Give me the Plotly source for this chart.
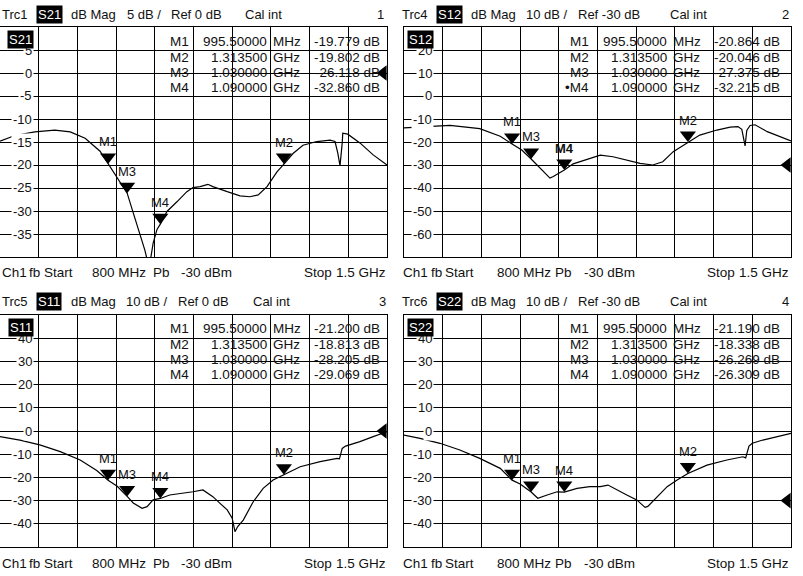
import plotly.graph_objects as go

W, H = 803, 576

# ---------------- data ----------------
START_MHZ, STOP_MHZ = 800, 1500
X_TICKS = [800, 870, 940, 1010, 1080, 1150, 1220, 1290, 1360, 1430, 1500]

# Trc1 S21
P1_FREQ = [800, 827, 863, 899, 927, 954, 981, 995.5, 1012, 1030, 1041, 1053, 1062, 1066, 1071,
           1077, 1084, 1090, 1102, 1120, 1138, 1149, 1162, 1176, 1185, 1211, 1234, 1252, 1267,
           1283, 1301, 1313.5, 1330, 1348, 1373, 1397, 1406, 1411, 1415, 1419, 1420, 1429, 1451,
           1475, 1500]
P1_DB = [-14.8, -13.6, -12.8, -12.4, -12.8, -14.2, -17.0, -19.78, -22.8, -26.12, -30.4, -34.8,
         -38.5, -40.5, -41.5, -37.0, -34.0, -32.86, -30.1, -28.0, -25.8, -24.9, -24.7, -24.2,
         -24.7, -25.8, -26.7, -26.9, -26.5, -24.7, -21.5, -19.8, -17.5, -15.7, -14.9, -14.6,
         -14.9, -17.4, -20.2, -15.2, -13.1, -13.3, -15.2, -17.8, -20.0]

# Trc4 S12
P2_FREQ = [800, 836, 883, 937, 974, 995.5, 1013, 1030, 1046, 1064, 1070, 1082, 1090, 1106, 1131,
           1155, 1178, 1203, 1227, 1250, 1268, 1287, 1313.5, 1335, 1366, 1390, 1404, 1411, 1417,
           1420, 1426, 1435, 1457, 1480, 1500]
P2_DB = [-13.9, -13.3, -12.8, -14.2, -17.5, -20.86, -23.5, -27.38, -31.3, -35.7, -35.0, -33.3,
         -32.22, -29.5, -27.5, -25.7, -26.4, -27.8, -29.3, -30.0, -28.6, -24.2, -20.05, -17.0,
         -14.8, -13.5, -13.3, -14.5, -21.7, -15.0, -12.8, -12.5, -15.5, -17.5, -19.5]

# Trc5 S11
P3_FREQ = [800, 836, 872, 909, 945, 975, 995.5, 1012, 1030, 1041, 1057, 1066, 1077, 1090, 1107,
           1131, 1149, 1167, 1185, 1198, 1211, 1220, 1225, 1230, 1240, 1258, 1276, 1294, 1313.5,
           1343, 1379, 1410, 1414, 1419, 1425, 1451, 1475, 1500]
P3_DB = [-2.4, -3.9, -6.0, -8.9, -12.5, -17.0, -21.2, -23.8, -28.2, -31.0, -33.3, -32.6, -29.7,
         -29.07, -27.6, -26.9, -26.2, -25.4, -28.3, -31.2, -34.0, -37.6, -43.4, -41.2, -38.4,
         -30.5, -24.7, -21.1, -18.81, -15.4, -13.2, -11.8, -12.0, -7.5, -6.5, -4.6, -2.4, -0.3]

# Trc6 S22
P4_FREQ = [800, 829, 865, 901, 937, 974, 995.5, 1010, 1030, 1042, 1059, 1077, 1090, 1113, 1136,
           1155, 1169, 1185, 1203, 1221, 1236, 1241, 1258, 1276, 1294, 1313.5, 1348, 1384, 1413,
           1418, 1424, 1430, 1449, 1475, 1500]
P4_DB = [-1.8, -3.2, -5.3, -8.2, -11.8, -16.1, -21.19, -22.8, -26.27, -29.0, -27.6, -26.2,
         -26.31, -24.7, -24.0, -24.0, -23.3, -25.4, -27.6, -29.7, -32.9, -32.5, -28.3, -24.0,
         -21.1, -18.34, -14.7, -12.5, -11.1, -11.6, -6.5, -5.3, -3.9, -2.5, -1.0]

MK_NAMES = ["M1", "M2", "M3", "M4"]
MK_FREQ = [995.5, 1313.5, 1030.0, 1090.0]
P1_MK_DB = [-19.779, -19.802, -26.118, -32.860]
P2_MK_DB = [-20.864, -20.046, -27.375, -32.215]
P3_MK_DB = [-21.200, -18.813, -28.205, -29.069]
P4_MK_DB = [-21.190, -18.338, -26.269, -26.309]

P1_YLAB = [5, 0, -5, -10, -15, -20, -25, -30, -35]
P2_YLAB = [20, 10, 0, -10, -20, -30, -40, -50, -60]
P3_YLAB = [40, 30, 20, 10, 0, -10, -20, -30, -40]
P4_YLAB = [40, 30, 20, 10, 0, -10, -20, -30, -40]

# ---------------- layout config ----------------
FONT = "Liberation Sans, Arial, sans-serif"
TXT = "#111111"

panels = [
    dict(trc="Trc1", par="S21", scale="5 dB /", ref="Ref 0 dB", num="1", ymin=-40, ymax=10, step=5,
         refval=0, freq=P1_FREQ, db=P1_DB, mk=P1_MK_DB, ylab=P1_YLAB,
         left=0, right=387, top=27, bottom=257, ox=0, oy=0, active=None,
         hx=[0, 49, 69, 125, 169, 243, 386], fx=[0, 27, 42, 90, 151, 179, 302, 388]),
    dict(trc="Trc4", par="S12", scale="10 dB /", ref="Ref -30 dB", num="2", ymin=-70, ymax=30, step=10,
         refval=-30, freq=P2_FREQ, db=P2_DB, mk=P2_MK_DB, ylab=P2_YLAB,
         left=404, right=791, top=27, bottom=257, ox=400, oy=0, active=3,
         hx=[400, 449, 469, 524, 576, 668, 791], fx=[401, 429, 443, 495, 553, 582, 705, 791]),
    dict(trc="Trc5", par="S11", scale="10 dB /", ref="Ref 0 dB", num="3", ymin=-50, ymax=50, step=10,
         refval=0, freq=P3_FREQ, db=P3_DB, mk=P3_MK_DB, ylab=P3_YLAB,
         left=0, right=387, top=315, bottom=547, ox=0, oy=287, active=None,
         hx=[0, 49, 69, 124, 176, 251, 388], fx=[0, 27, 42, 90, 151, 179, 302, 388]),
    dict(trc="Trc6", par="S22", scale="10 dB /", ref="Ref -30 dB", num="4", ymin=-50, ymax=50, step=10,
         refval=-30, freq=P4_FREQ, db=P4_DB, mk=P4_MK_DB, ylab=P4_YLAB,
         left=404, right=791, top=315, bottom=547, ox=400, oy=287, active=None,
         hx=[400, 449, 469, 524, 576, 668, 791], fx=[401, 429, 443, 495, 553, 582, 705, 791]),
]


def fx(px):
    return px / W


def fy(py):
    return 1 - py / H


def fmt_freq(f):
    if f < 1000:
        return ("%.5f" % f, "MHz")
    return ("%.6f" % (f / 1000.0), "GHz")


fig = go.Figure()
annotations = []
layout_axes = {}

TRI_SIZE = 14
REF_SIZE = 13.5

for i, p in enumerate(panels, start=1):
    xa = "x" if i == 1 else "x%d" % i
    ya = "y" if i == 1 else "y%d" % i
    xkey = "xaxis" if i == 1 else "xaxis%d" % i
    ykey = "yaxis" if i == 1 else "yaxis%d" % i

    ppu_y = (p["bottom"] - p["top"]) / (p["ymax"] - p["ymin"])
    ppu_x = (p["right"] - p["left"]) / (STOP_MHZ - START_MHZ)

    layout_axes[xkey] = dict(domain=[fx(p["left"]), fx(p["right"])], range=[START_MHZ, STOP_MHZ],
                             tickvals=X_TICKS, showgrid=True, gridcolor="#000", gridwidth=1,
                             showticklabels=False, showline=True, mirror=True, linecolor="#000",
                             linewidth=1, zeroline=False, ticks="", anchor=ya, fixedrange=True)
    layout_axes[ykey] = dict(domain=[fy(p["bottom"]), fy(p["top"])], range=[p["ymin"], p["ymax"]],
                             tickvals=list(range(p["ymin"], p["ymax"] + p["step"], p["step"])),
                             showgrid=True, gridcolor="#000", gridwidth=1, showticklabels=False,
                             showline=True, mirror=True, linecolor="#000", linewidth=1,
                             zeroline=False, ticks="", anchor=xa, fixedrange=True)

    # trace
    fig.add_trace(go.Scatter(x=p["freq"], y=p["db"], mode="lines", xaxis=xa, yaxis=ya,
                             line=dict(color="#000", width=1.2), hoverinfo="skip", showlegend=False))
    # marker triangles (tip on the trace)
    r_px = TRI_SIZE / 2.0
    fig.add_trace(go.Scatter(x=MK_FREQ, y=[v + r_px / ppu_y for v in p["mk"]], mode="markers",
                             xaxis=xa, yaxis=ya, cliponaxis=False,
                             marker=dict(symbol="triangle-down", size=TRI_SIZE, color="#000",
                                         line=dict(width=0)),
                             hoverinfo="skip", showlegend=False))
    # reference level arrow at right edge
    rr = REF_SIZE / 2.0
    fig.add_trace(go.Scatter(x=[STOP_MHZ - (rr - 3) / ppu_x], y=[p["refval"]], mode="markers",
                             xaxis=xa, yaxis=ya, cliponaxis=False,
                             marker=dict(symbol="triangle-left", size=REF_SIZE, color="#000",
                                         line=dict(width=0)),
                             hoverinfo="skip", showlegend=False))

    # marker labels
    for k, (nm, f, v) in enumerate(zip(MK_NAMES, MK_FREQ, p["mk"])):
        txt = "<b>%s</b>" % nm if p["active"] == k else nm
        annotations.append(dict(x=f, y=v, xref=xa, yref=ya, text=txt, showarrow=False,
                                yshift=22, xanchor="center", yanchor="middle",
                                font=dict(family=FONT, size=13, color=TXT)))

    # y labels with white background
    lab_x = 34 if p["left"] == 0 else 434
    for v in p["ylab"]:
        py = p["top"] + (p["ymax"] - v) * ppu_y
        annotations.append(dict(x=fx(lab_x), y=fy(py), xref="paper", yref="paper", text=str(v),
                                showarrow=False, xanchor="right", yanchor="middle",
                                bgcolor="#fff", borderpad=1,
                                font=dict(family=FONT, size=13, color=TXT)))

    # inner parameter box
    annotations.append(dict(x=fx(lab_x), y=fy(40 + p["oy"]), xref="paper", yref="paper",
                            text=p["par"], showarrow=False, xanchor="right", yanchor="middle",
                            bgcolor="#000", borderpad=1,
                            font=dict(family=FONT, size=13, color="#fff")))

    # header
    hy = fy(14 + p["oy"])
    hx = p["hx"]
    annotations.append(dict(x=fx(hx[0]), y=hy, xref="paper", yref="paper", text=p["trc"],
                            showarrow=False, xanchor="left", yanchor="middle",
                            font=dict(family=FONT, size=13, color=TXT)))
    annotations.append(dict(x=fx(hx[1]), y=hy, xref="paper", yref="paper", text=p["par"],
                            showarrow=False, xanchor="center", yanchor="middle",
                            bgcolor="#000", borderpad=1,
                            font=dict(family=FONT, size=13, color="#fff")))
    for t, xx in zip(["dB Mag", p["scale"], p["ref"], "Cal int"], hx[2:6]):
        annotations.append(dict(x=fx(xx), y=hy, xref="paper", yref="paper", text=t,
                                showarrow=False, xanchor="left", yanchor="middle",
                                font=dict(family=FONT, size=13, color=TXT)))
    annotations.append(dict(x=fx(hx[6]), y=hy, xref="paper", yref="paper", text=p["num"],
                            showarrow=False, xanchor="right", yanchor="middle",
                            font=dict(family=FONT, size=13, color=TXT)))

    # footer
    fyy = fy(273 + (290 if p["oy"] else 0))
    ftxt = ["Ch1", "fb", "Start", "800 MHz", "Pb", "-30 dBm", "Stop"]
    for t, xx in zip(ftxt, p["fx"][:7]):
        annotations.append(dict(x=fx(xx), y=fyy, xref="paper", yref="paper", text=t,
                                showarrow=False, xanchor="left", yanchor="middle",
                                font=dict(family=FONT, size=13.5, color=TXT)))
    annotations.append(dict(x=fx(p["fx"][7]), y=fyy, xref="paper", yref="paper", text="1.5 GHz",
                            showarrow=False, xanchor="right", yanchor="middle",
                            font=dict(family=FONT, size=13.5, color=TXT)))

    # marker table
    rows_y = [41, 57, 72.5, 87.5]
    for k, (nm, f, v) in enumerate(zip(MK_NAMES, MK_FREQ, p["mk"])):
        ry = fy(rows_y[k] + p["oy"])
        fs, unit = fmt_freq(f)
        name = ("\u2022" + nm) if p["active"] == k else nm
        cells = [(name, 191, "right"), (fs, 269, "right"), (unit, 271, "left"),
                 ("%.3f dB" % v, 382, "right")]
        for t, xx, anc in cells:
            annotations.append(dict(x=fx(xx + p["ox"]), y=ry, xref="paper", yref="paper", text=t,
                                    showarrow=False, xanchor=anc, yanchor="middle",
                                    font=dict(family=FONT, size=13.5, color=TXT)))

fig.update_layout(width=W, height=H, margin=dict(l=0, r=0, t=0, b=0),
                  paper_bgcolor="#fff", plot_bgcolor="#fff", showlegend=False,
                  annotations=annotations, **layout_axes)

fig.write_html("out.html",
               config={"displayModeBar": False, "staticPlot": True},
               post_script="document.body.style.margin='0';document.body.style.overflow='hidden';")
